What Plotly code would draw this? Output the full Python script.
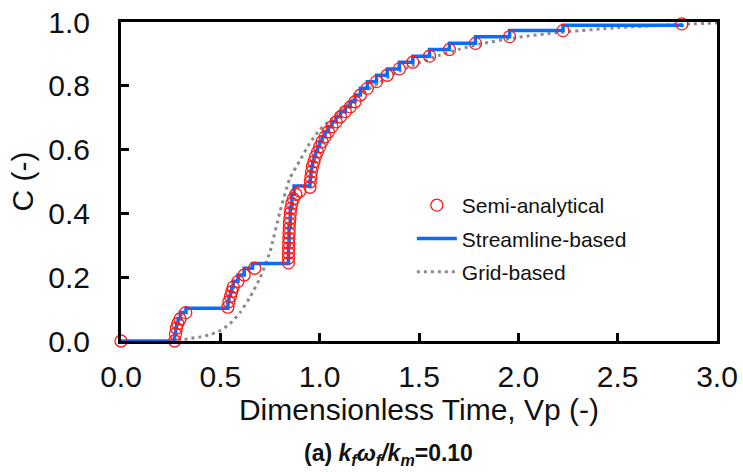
import plotly.graph_objects as go

# Semi-analytical (open red circles)
semi_x = [0.000, 0.270, 0.274, 0.279, 0.286, 0.297, 0.326,
          0.538, 0.543, 0.551, 0.558, 0.565, 0.589, 0.620, 0.673,
          0.843, 0.843, 0.843, 0.844, 0.844, 0.845, 0.846, 0.847, 0.848, 0.850,
          0.852, 0.855, 0.860, 0.868, 0.880, 0.900,
          0.951, 0.953, 0.956, 0.959, 0.964, 0.971, 0.979, 0.989, 1.000, 1.012,
          1.027, 1.044, 1.062, 1.083, 1.105, 1.129, 1.154, 1.178,
          1.205, 1.240, 1.286, 1.340, 1.401, 1.469, 1.553, 1.653, 1.784, 1.956,
          2.225, 2.823]
semi_y = [0.000, 0.000, 0.022, 0.040, 0.055, 0.069, 0.089,
          0.106, 0.123, 0.140, 0.155, 0.169, 0.187, 0.207, 0.228,
          0.245, 0.260, 0.276, 0.291, 0.307, 0.322, 0.338, 0.353, 0.369, 0.384,
          0.400, 0.415, 0.431, 0.446, 0.460, 0.470,
          0.482, 0.499, 0.515, 0.531, 0.547, 0.562, 0.578, 0.593, 0.609, 0.625,
          0.640, 0.656, 0.672, 0.687, 0.703, 0.719, 0.734, 0.750,
          0.771, 0.792, 0.813, 0.833, 0.853, 0.874, 0.893, 0.914, 0.933, 0.954,
          0.973, 0.994]

# Streamline-based (step curve, level holds from x until next x)
stream_x = [0.000, 0.270, 0.275, 0.280, 0.287, 0.298, 0.327,
            0.538, 0.543, 0.551, 0.558, 0.565, 0.589, 0.620, 0.662,
            0.843, 0.846, 0.852, 0.860, 0.871,
            0.951, 0.953, 0.956, 0.959, 0.964, 0.971, 0.979, 0.989, 1.000, 1.012,
            1.027, 1.044, 1.062, 1.083, 1.105, 1.129, 1.154, 1.178,
            1.205, 1.240, 1.286, 1.340, 1.401, 1.469, 1.553, 1.653, 1.784, 1.956,
            2.225, 2.823]
stream_y = [0.000, 0.022, 0.040, 0.055, 0.069, 0.089, 0.103,
            0.123, 0.140, 0.155, 0.169, 0.187, 0.207, 0.228, 0.243,
            0.300, 0.360, 0.420, 0.460, 0.486,
            0.499, 0.515, 0.531, 0.547, 0.562, 0.578, 0.593, 0.609, 0.625, 0.640,
            0.656, 0.672, 0.687, 0.703, 0.719, 0.734, 0.750, 0.771,
            0.792, 0.813, 0.833, 0.853, 0.874, 0.893, 0.914, 0.933, 0.954, 0.973,
            0.990, 0.994]

# Grid-based (gray dotted)
grid_x = [0.25, 0.30, 0.35, 0.40, 0.45, 0.50, 0.55, 0.60, 0.65, 0.70, 0.75,
          0.80, 0.85, 0.90, 0.95, 1.00, 1.05, 1.10, 1.15, 1.20, 1.30, 1.40,
          1.50, 1.60, 1.70, 1.80, 2.00, 2.20, 2.50, 2.80, 3.00]
grid_y = [0.000, 0.003, 0.008, 0.013, 0.020, 0.033, 0.055, 0.090, 0.138, 0.198, 0.280,
          0.405, 0.510, 0.565, 0.620, 0.662, 0.690, 0.720, 0.748, 0.770, 0.810, 0.845,
          0.872, 0.895, 0.914, 0.930, 0.952, 0.967, 0.982, 0.992, 0.997]

x_ticks = [0.0, 0.5, 1.0, 1.5, 2.0, 2.5, 3.0]
y_ticks = [0.0, 0.2, 0.4, 0.6, 0.8, 1.0]

FONT = "Liberation Sans, Arial, sans-serif"

fig = go.Figure()
fig.add_trace(go.Scatter(
    x=grid_x, y=grid_y, mode="lines", name="Grid-based",
    line=dict(color="#8a8a8a", width=3, dash="3px,4px", shape="spline", smoothing=0.6),
    legendgroup="c", legendrank=3))
fig.add_trace(go.Scatter(
    x=stream_x, y=stream_y, mode="lines", name="Streamline-based",
    line=dict(color="#0A6CFF", width=3.5, shape="hv"),
    legendgroup="b", legendrank=2))
fig.add_trace(go.Scatter(
    x=semi_x, y=semi_y, mode="markers", name="Semi-analytical",
    marker=dict(symbol="circle-open", size=12, color="#FF1A1A", line=dict(width=1.3)),
    cliponaxis=False, legendgroup="a", legendrank=1))

fig.update_layout(
    width=743, height=472,
    margin=dict(l=121, r=26, t=22, b=131, autoexpand=False),
    paper_bgcolor="white", plot_bgcolor="white",
    font=dict(family=FONT, color="#111111"),
    showlegend=True,
    legend=dict(x=0.488, y=0.489, xanchor="left", yanchor="top",
                bgcolor="rgba(0,0,0,0)", font=dict(size=21, family=FONT),
                traceorder="grouped", tracegroupgap=3, itemwidth=40),
    xaxis=dict(range=[0, 3], tickvals=x_ticks, tickformat=".1f", automargin=False,
               ticks="inside", ticklen=8, tickwidth=3, tickcolor="black",
               showline=True, linewidth=3, linecolor="black", mirror=True,
               showgrid=False, zeroline=False,
               tickfont=dict(size=30, family=FONT), ticklabelstandoff=7,
               title=dict(text="Dimensionless Time, Vp (-)", font=dict(size=30, family=FONT),
                          standoff=2)),
    yaxis=dict(range=[0, 1.0], tickvals=y_ticks, tickformat=".1f", automargin=False,
               ticks="inside", ticklen=8, tickwidth=3, tickcolor="black",
               showline=True, linewidth=3, linecolor="black", mirror=True,
               showgrid=False, zeroline=False,
               tickfont=dict(size=30, family=FONT), ticklabelstandoff=22,
               title=dict(text="C (-)", font=dict(size=30, family=FONT), standoff=6)),
)

fig.add_annotation(
    x=(388 - 121) / 596, y=(341 - 455) / 319, xref="paper", yref="paper",
    xanchor="center", yanchor="middle", showarrow=False,
    text="<b>(a) <i>k</i><sub><i>f</i></sub><i>ω</i><sub><i>f</i></sub><i>/k</i><sub><i>m</i></sub>=0.10</b>",
    font=dict(size=23, family=FONT, color="#111111"))

fig.write_html("out.html")
